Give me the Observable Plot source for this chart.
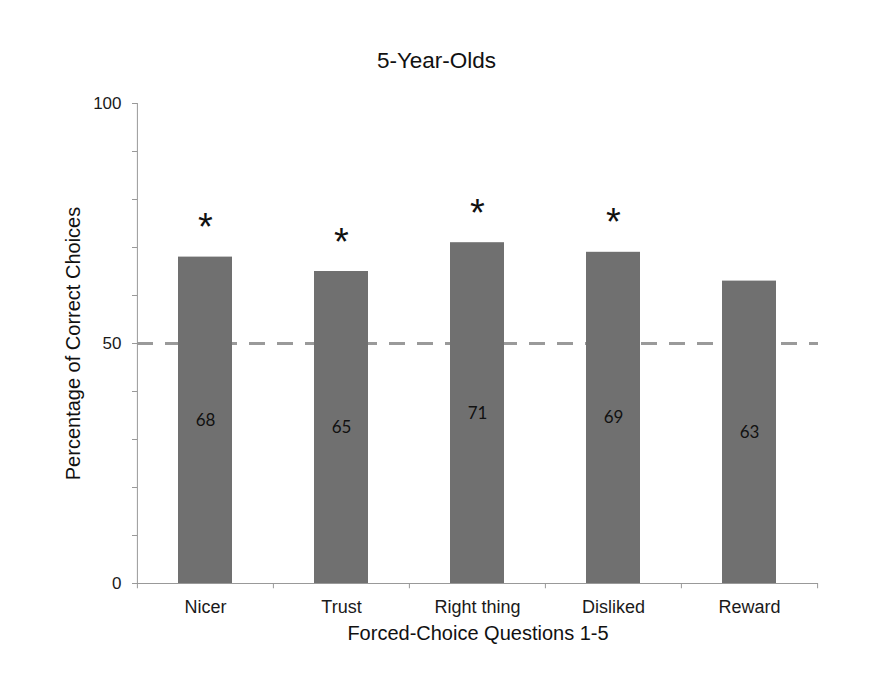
<!DOCTYPE html>
<html>
<head>
<meta charset="utf-8">
<script src="https://cdn.jsdelivr.net/npm/d3@7"></script>
<script src="https://cdn.jsdelivr.net/npm/@observablehq/plot@0.6"></script>
<style>
  html, body { margin: 0; padding: 0; background: #fff; }
</style>
</head>
<body>
<div id="chart"></div>
<script>
const title = "5-Year-Olds";
const xTitle = "Forced-Choice Questions 1-5";
const yTitle = "Percentage of Correct Choices";
const categories = ["Nicer", "Trust", "Right thing", "Disliked", "Reward"];
const values = [68, 65, 71, 69, 63];
const significant = [true, true, true, true, false];
const yTicks = [0, 10, 20, 30, 40, 50, 60, 70, 80, 90, 100];
const yTickLabels = [0, 50, 100];
const chance = 50;

const data = categories.map((q, i) => ({q, v: values[i], sig: significant[i]}));

const W = 894, H = 689, mL = 137, mR = 76, mT = 103, mB = 106;
const step = (W - mL - mR) / categories.length;
const axisGray = "#999";

const chart = Plot.plot({
  width: W,
  height: H,
  marginTop: mT,
  marginBottom: mB,
  marginLeft: mL,
  marginRight: mR,
  style: {fontFamily: "'Liberation Sans', Arial, sans-serif", fontSize: "16px", color: "#222", background: "#fff"},
  x: {domain: categories, paddingInner: 0.6, paddingOuter: 0.3, label: null},
  y: {domain: [0, 100], label: null},
  marks: [
    Plot.ruleY([chance], {stroke: "#9a9a9a", strokeWidth: 3, strokeDasharray: "16,12"}),
    Plot.barY(data, {x: "q", y: "v", fill: "#707070"}),
    Plot.axisY({ticks: yTicks, tickSize: 5, tickPadding: 11, stroke: axisGray, fill: "#1a1a1a", fontSize: 17,
                tickFormat: d => yTickLabels.includes(d) ? String(d) : "", label: null}),
    Plot.axisX({tickSize: 0, tickPadding: 17, fill: "#1a1a1a", fontSize: 18, label: null}),
    Plot.ruleY([0], {stroke: axisGray}),
    Plot.ruleX([categories[0]], {x: d => d, y1: 0, y2: 100, dx: -step / 2, stroke: axisGray}),
    Plot.ruleX(categories, {x: d => d, y1: 0, y2: -1.1, dx: -step / 2, stroke: axisGray}),
    Plot.ruleX([categories[categories.length - 1]], {x: d => d, y1: 0, y2: -1.1, dx: step / 2, stroke: axisGray}),
    Plot.text(data, {x: "q", y: d => d.v / 2, text: d => String(d.v), fontFamily: "Lato, 'Open Sans', sans-serif", fontSize: 17, fill: "#111"}),
    Plot.text(data.filter(d => d.sig), {x: "q", y: "v", text: () => "*", dy: -29, fontSize: 38, fill: "#111", fontFamily: "'Liberation Sans', Arial, sans-serif"}),
    Plot.text([title], {frameAnchor: "top-left", dx: 299, dy: -51, text: d => d, fontSize: 22.5, textAnchor: "middle", fill: "#111"}),
    Plot.text([xTitle], {frameAnchor: "bottom", dy: 56, text: d => d, fontSize: 20, fill: "#111"}),
    Plot.text([yTitle], {frameAnchor: "left", dx: -64, rotate: -90, textAnchor: "middle", text: d => d, fontSize: 20, fill: "#111"})
  ]
});
document.getElementById("chart").appendChild(chart);
</script>
</body>
</html>
